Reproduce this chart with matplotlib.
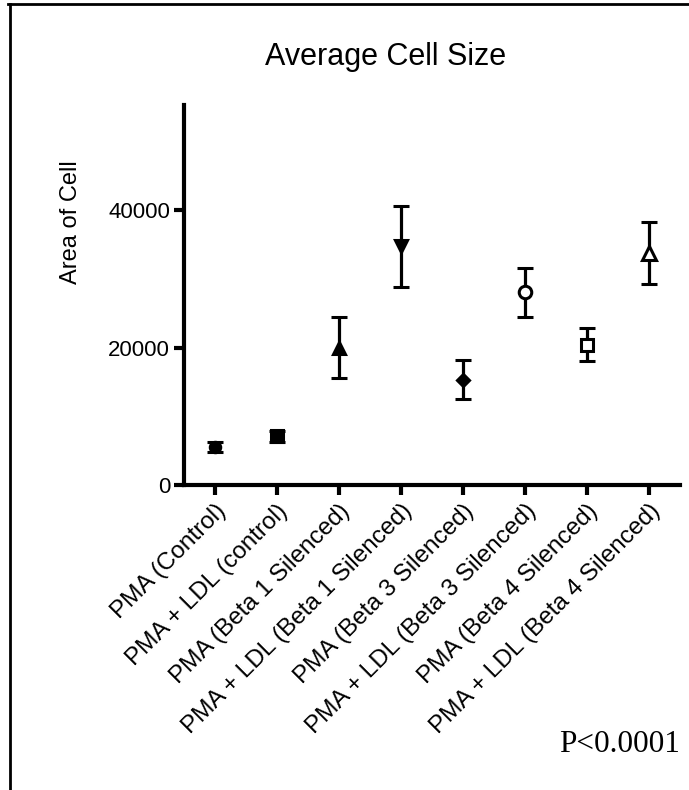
import numpy as np
import matplotlib
matplotlib.use("Agg")
import matplotlib.pyplot as plt
from matplotlib.lines import Line2D

plt.rcParams["font.family"] = ["Liberation Sans", "DejaVu Sans"]

# Données
groups = [
    "PMA (Control)",
    "PMA + LDL (control)",
    "PMA (Beta 1 Silenced)",
    "PMA + LDL (Beta 1 Silenced)",
    "PMA (Beta 3 Silenced)",
    "PMA + LDL (Beta 3 Silenced)",
    "PMA (Beta 4 Silenced)",
    "PMA + LDL (Beta 4 Silenced)",
]
means = [5500, 7100, 19970, 34740, 15340, 28050, 20420, 33770]
errors = [700, 800, 4420, 5890, 2790, 3560, 2380, 4530]
yticks = [0, 20000, 40000]

markers = ["o", "s", "^", "v", "D", "o", "s", "^"]
msizes = [7.5, 9, 9, 9, 6, 9, 9, 10]
filled = [True, True, True, True, True, False, False, False]

fig = plt.figure(figsize=(6.89, 7.90), dpi=100)
ax = fig.add_axes([184 / 689, 1 - 485 / 790, (680 - 184) / 689, (485 - 105) / 790])

x = np.arange(len(groups))
for i in range(len(groups)):
    ax.errorbar(
        x[i], means[i], yerr=errors[i],
        fmt=markers[i], ms=msizes[i],
        mfc="black" if filled[i] else "white", mec="black", mew=2.2,
        ecolor="black", elinewidth=2.3, capsize=5.8, capthick=2.3,
        zorder=3,
    )

ax.set_xlim(-0.5, 7.5)
ax.set_ylim(0, 55300)
ax.set_yticks(yticks)
ax.set_yticklabels([str(t) for t in yticks], fontsize=16)
ax.set_xticks(x)
ax.set_xticklabels(groups, fontsize=17.5, rotation=45, ha="right", va="top",
                   rotation_mode="anchor")

for s in ["top", "right"]:
    ax.spines[s].set_visible(False)
for s in ["left", "bottom"]:
    ax.spines[s].set_linewidth(3)
ax.tick_params(axis="both", length=7, width=3, pad=3)
ax.tick_params(axis="x", pad=4)

fig.text(386 / 689, 1 - 57 / 790, "Average Cell Size", fontsize=22,
         ha="center", va="center")
fig.text(71 / 689, 1 - 222 / 790, "Area of Cell", fontsize=17,
         rotation=90, ha="center", va="center")
fig.text(680 / 689, 1 - 745 / 790, "P<0.0001", fontsize=22.5,
         family="Liberation Serif", ha="right", va="center")

# Cadre (haut et gauche)
fig.add_artist(Line2D([8 / 689, 1], [1 - 4 / 790, 1 - 4 / 790], color="black", lw=2))
fig.add_artist(Line2D([10 / 689, 10 / 689], [0, 1 - 4 / 790], color="black", lw=2))

fig.savefig("out.png", dpi=100)
